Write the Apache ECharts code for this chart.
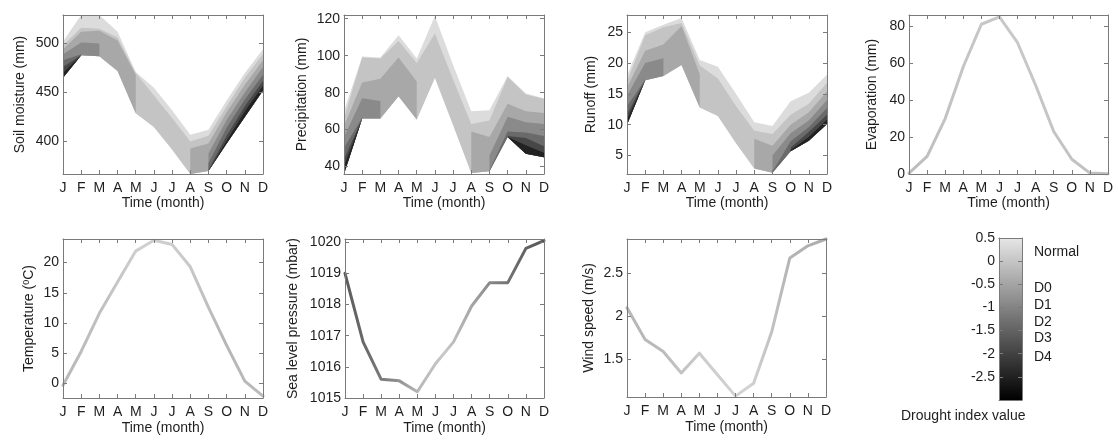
<!DOCTYPE html>
<html>
<head>
<meta charset="utf-8">
<script src="https://cdn.jsdelivr.net/npm/echarts@6/dist/echarts.min.js"></script>
<style>
  html, body { margin: 0; padding: 0; background: #fff; }
  #chart { width: 1118px; height: 444px; }
</style>
</head>
<body>
<div id="chart"></div>
<script>
// ---- Data ---------------------------------------------------------------
const monthLetters = ['J', 'F', 'M', 'A', 'M', 'J', 'J', 'A', 'S', 'O', 'N', 'D'];

// Monthly values per drought class boundary (upper edge of each shade, top = Normal),
// null where that class does not occur in a month.
const soilTop    = [502, 529, 529, 512, 471, 455, 432, 407, 412, 442, 470, 494];
const soilD0     = [498, 516, 515, 506, 470, 447, 424, 400, 406, 436, 465, 489];
const soilD1     = [494, 512, 513, 503, 468, null, null, 393, 398, 430, 458, 483];
const soilD2     = [489, 501, 500, null, null, null, null, null, 388, 422, 450, 476];
const soilD3     = [483, 489, null, null, null, null, null, null, 378, 414, 443, 468];
const soilD4     = [476, 488, null, null, null, null, null, null, 371, 406, 436, 462];
const soilD5     = [470, 488, null, null, null, null, null, null, 370, 401, 431, 457];
const soilBottom = [465, 488, 487, 472, 429, 415, 392, 367, 370, 398, 425, 452];

const precTop    = [70, 99.5, 99, 111, 98.5, 121.5, 95, 70, 70.5, 89, 79.5, 77];
const precD0     = [66, 99, 98.5, 108, 96, 112, 87, 63, 65, 88.5, 79, 76.5];
const precD1     = [62, 85.5, 87.5, 99, 86, null, null, 59, 56, 74, 70, 69];
const precD2     = [56, 77, 75.5, null, null, null, null, null, 46, 67, 64, 63];
const precD3     = [50, 66.5, null, null, null, null, null, null, 38, 59, 58.5, 56.5];
const precD4     = [44, 66, null, null, null, null, null, null, null, 56.5, 55.5, 51];
const precD5     = [40, 66, null, null, null, null, null, null, null, 56, 51.5, 47.5];
const precBottom = [36, 66, 66, 78, 65.5, 88, 62.5, 36.5, 37.5, 56, 47, 45];

const runTop     = [18, 25, 26.2, 27.3, 20.5, 19.4, 15, 10.4, 9.8, 13.8, 15.2, 18.1];
const runD0      = [17, 24.5, 25.8, 26.5, 19.6, 17.5, 13, 9, 8.5, 11.6, 13.4, 16.8];
const runD1      = [16, 22, 23, 26, 18.2, null, null, 7.7, 6.6, 10, 12, 15.4];
const runD2      = [14.7, 20, 20.8, null, null, null, null, null, 5, 8.6, 10.7, 14];
const runD3      = [13, 17.3, null, null, null, null, null, null, 2.4, 7.3, 9.6, 12.7];
const runD4      = [11.7, 17.2, null, null, null, null, null, null, null, 6.3, 8.8, 11.6];
const runD5      = [10.8, 17.2, null, null, null, null, null, null, null, 5.9, 8, 10.8];
const runBottom  = [10, 17.2, 17.9, 19.7, 12.8, 11.4, 7, 2.9, 2.2, 5.7, 7.4, 10.1];

const evaporation = [0.5, 9.5, 30, 58, 81, 85, 71, 48, 23, 8, 0.5, 0.2];
const temperature = [-0.3, 5.3, 11.6, 16.8, 21.9, 23.7, 23, 19.3, 12.6, 6.3, 0.4, -2.1];
const pressure    = [1019, 1016.8, 1015.6, 1015.55, 1015.2, 1016.1, 1016.8, 1017.95, 1018.7, 1018.7, 1019.8, 1020.05];
const windSpeed   = [2.1, 1.73, 1.59, 1.34, 1.57, 1.32, 1.07, 1.22, 1.82, 2.68, 2.82, 2.9];

const soilTicks = [400, 450, 500];
const precTicks = [40, 60, 80, 100, 120];
const runTicks  = [5, 10, 15, 20, 25];
const evapTicks = [0, 20, 40, 60, 80];
const tempTicks = [0, 5, 10, 15, 20];
const presTicks = [1015, 1016, 1017, 1018, 1019, 1020];
const windTicks = [1.5, 2, 2.5];

const droughtClasses   = ['Normal', 'D0', 'D1', 'D2', 'D3', 'D4'];
const droughtLabelAt   = [0.2, -0.58, -0.95, -1.31, -1.66, -2.08];
const colorbarTicks    = [0.5, 0, -0.5, -1, -1.5, -2, -2.5];

// ---- Styling --------------------------------------------------------------
const FONT = "'Liberation Sans', Arial, Helvetica, sans-serif";
const FS = 14;
const TEXT = '#1e1e1e';
const FRAME = '#7a7a7a';
const shadeColors = ['#dcdcdc', '#c4c4c4', '#a8a8a8', '#8a8a8a', '#6a6a6a', '#474747', '#222222'];

const panels = [
  { name: 'Soil moisture (mm)', min: 367, max: 529, ticks: soilTicks, nameGap: 36,
    box: { left: 63, top: 15, width: 200, height: 159 }, row: 0,
    levels: [soilTop, soilD0, soilD1, soilD2, soilD3, soilD4, soilD5], bottom: soilBottom },
  { name: 'Precipitation (mm)', min: 36, max: 122, ticks: precTicks, nameGap: 35,
    box: { left: 344, top: 15, width: 200, height: 159 }, row: 0,
    levels: [precTop, precD0, precD1, precD2, precD3, precD4, precD5], bottom: precBottom },
  { name: 'Runoff (mm)', min: 2, max: 27.8, ticks: runTicks, nameGap: 29,
    box: { left: 627, top: 15, width: 200, height: 159 }, row: 0,
    levels: [runTop, runD0, runD1, runD2, runD3, runD4, runD5], bottom: runBottom },
  { name: 'Evaporation (mm)', min: 0, max: 86, ticks: evapTicks, nameGap: 30,
    box: { left: 909, top: 15, width: 199, height: 159 }, row: 0,
    line: evaporation,
    color: ['#bcbcbc', '#c4c4c4', '#c9c9c9', '#c4c4c4', '#bfbfbf'] },
  { name: 'Temperature ({s|0}C)', min: -2.4, max: 23.9, ticks: tempTicks, nameGap: 27,
    box: { left: 63, top: 239, width: 200, height: 159 }, row: 1,
    line: temperature,
    color: ['#b8b8b8', '#c0c0c0', '#d0d0d0', '#cbcbcb', '#b6b6b6', '#bcbcbc'] },
  { name: 'Sea level pressure (mbar)', min: 1015, max: 1020.1, ticks: presTicks, nameGap: 45,
    box: { left: 345, top: 239, width: 199, height: 159 }, row: 1,
    line: pressure,
    color: ['#5a5a5a', '#6c6c6c', '#888888', '#b8b8b8', '#c8c8c8', '#a8a8a8', '#808080', '#666666', '#555555'] },
  { name: 'Wind speed (m/s)', min: 1.06, max: 2.9, ticks: windTicks, nameGap: 31,
    box: { left: 627, top: 239, width: 199, height: 158 }, row: 1,
    line: windSpeed,
    color: ['#b6b6b6', '#bcbcbc', '#cdcdcd', '#d3d3d3', '#b6b6b6', '#ababab'] }
];

const colorbarBox = { left: 999, top: 238, width: 23, height: 162 };

// ---- Option assembly ------------------------------------------------------
const grids = [], xAxes = [], yAxes = [], series = [];
const frameLine = { show: true, onZero: false, lineStyle: { color: FRAME, width: 1 } };
const tick = { show: true, inside: true, length: 4, lineStyle: { color: FRAME, width: 1 } };
const labelFont = { fontFamily: FONT, fontSize: FS, color: TEXT };
const plainNumber = v => String(v);

function gradient(stops) {
  return new echarts.graphic.LinearGradient(0, 0, 1, 0,
    stops.map((c, i) => ({ offset: i / (stops.length - 1), color: c })));
}

panels.forEach((p, k) => {
  grids.push(Object.assign({ containLabel: false }, p.box));
  xAxes.push({
    gridIndex: k, type: 'value', min: 1, max: 12, interval: 1, position: 'bottom', z: 10,
    axisLine: frameLine, axisTick: tick, splitLine: { show: false },
    axisLabel: Object.assign({ margin: p.row === 0 ? 7 : 7, formatter: v => monthLetters[v - 1] || '' }, labelFont),
    name: 'Time (month)', nameLocation: 'middle', nameGap: p.row === 0 ? 22 : 23,
    nameTextStyle: labelFont
  });
  xAxes.push({
    gridIndex: k, type: 'value', min: 1, max: 12, interval: 1, position: 'top', z: 10,
    axisLine: frameLine, axisTick: tick, splitLine: { show: false }, axisLabel: { show: false }
  });
  yAxes.push({
    gridIndex: k, type: 'value', min: p.min, max: p.max, position: 'left', z: 10,
    axisLine: frameLine, axisTick: Object.assign({ customValues: p.ticks }, tick),
    splitLine: { show: false },
    axisLabel: Object.assign({ margin: 4, customValues: p.ticks, formatter: plainNumber }, labelFont),
    name: p.name, nameLocation: 'middle', nameRotate: 90, nameGap: p.nameGap,
    nameTextStyle: Object.assign({
      rich: { s: { fontFamily: FONT, fontSize: 9, color: TEXT, verticalAlign: 'top', lineHeight: 9 } }
    }, labelFont)
  });
  yAxes.push({
    gridIndex: k, type: 'value', min: p.min, max: p.max, position: 'right', z: 10,
    axisLine: frameLine, axisTick: Object.assign({ customValues: p.ticks }, tick),
    splitLine: { show: false }, axisLabel: { show: false }
  });

  const xi = 2 * k, yi = 2 * k;
  if (p.levels) {
    // Filled drought-class bands: each shade spans from the common lower edge up to its own level.
    series.push({
      type: 'custom', xAxisIndex: xi, yAxisIndex: yi, clip: true, silent: true,
      data: p.levels.map((_, i) => [i]),
      renderItem: (params, api) => {
        const s = params.dataIndex;
        const upper = p.levels[s], lower = p.bottom;
        const children = [];
        let run = [];
        const flush = () => {
          if (run.length >= 2) {
            const pts = run.map(m => api.coord([m + 1, upper[m]]))
              .concat(run.slice().reverse().map(m => api.coord([m + 1, lower[m]])));
            children.push({ type: 'polygon', shape: { points: pts }, style: { fill: shadeColors[s], stroke: null } });
          }
          run = [];
        };
        for (let m = 0; m < 12; m++) {
          if (upper[m] != null && lower[m] != null) run.push(m); else flush();
        }
        flush();
        return { type: 'group', children };
      }
    });
  } else {
    series.push({
      type: 'line', xAxisIndex: xi, yAxisIndex: yi, symbol: 'none', silent: true, clip: false,
      data: p.line.map((v, m) => [m + 1, v]),
      lineStyle: { width: 3, color: gradient(p.color), cap: 'round', join: 'round' }
    });
  }
});

// Colour bar for the drought index
const cb = panels.length;
grids.push(Object.assign({}, colorbarBox));
xAxes.push({ gridIndex: cb, type: 'value', min: 0, max: 1, position: 'bottom', z: 10,
  axisLine: frameLine, axisTick: { show: false }, axisLabel: { show: false }, splitLine: { show: false } });
xAxes.push({ gridIndex: cb, type: 'value', min: 0, max: 1, position: 'top', z: 10,
  axisLine: frameLine, axisTick: { show: false }, axisLabel: { show: false }, splitLine: { show: false } });
yAxes.push({ gridIndex: cb, type: 'value', min: -3, max: 0.5, position: 'left', z: 10,
  axisLine: frameLine, axisTick: Object.assign({ customValues: colorbarTicks }, tick),
  splitLine: { show: false },
  axisLabel: Object.assign({ margin: 4, customValues: colorbarTicks, formatter: plainNumber }, labelFont) });
yAxes.push({ gridIndex: cb, type: 'value', min: -3, max: 0.5, position: 'right', z: 10,
  axisLine: frameLine, axisTick: Object.assign({ customValues: colorbarTicks }, tick),
  splitLine: { show: false },
  axisLabel: Object.assign({ margin: 12, customValues: droughtLabelAt,
    formatter: v => droughtClasses[droughtLabelAt.indexOf(v)] || '' }, labelFont) });

series.push({
  type: 'custom', xAxisIndex: 2 * cb, yAxisIndex: 2 * cb, silent: true,
  data: [[0]],
  renderItem: (params, api) => {
    const a = api.coord([0, 0.5]);
    const b = api.coord([1, -3]);
    return {
      type: 'rect',
      shape: { x: a[0], y: a[1], width: b[0] - a[0], height: b[1] - a[1] },
      style: { fill: new echarts.graphic.LinearGradient(0, 0, 0, 1, [
        { offset: 0, color: '#e6e6e6' }, { offset: 1, color: '#000000' }]) }
    };
  }
});

const option = {
  animation: false,
  backgroundColor: '#ffffff',
  grid: grids,
  xAxis: xAxes,
  yAxis: yAxes,
  series: series,
  graphic: [{
    type: 'text', left: 901, top: 409,
    style: { text: 'Drought index value', fontFamily: FONT, fontSize: FS, fill: TEXT }
  }]
};

const chart = echarts.init(document.getElementById('chart'), null, { renderer: 'canvas' });
chart.setOption(option);
</script>
</body>
</html>
